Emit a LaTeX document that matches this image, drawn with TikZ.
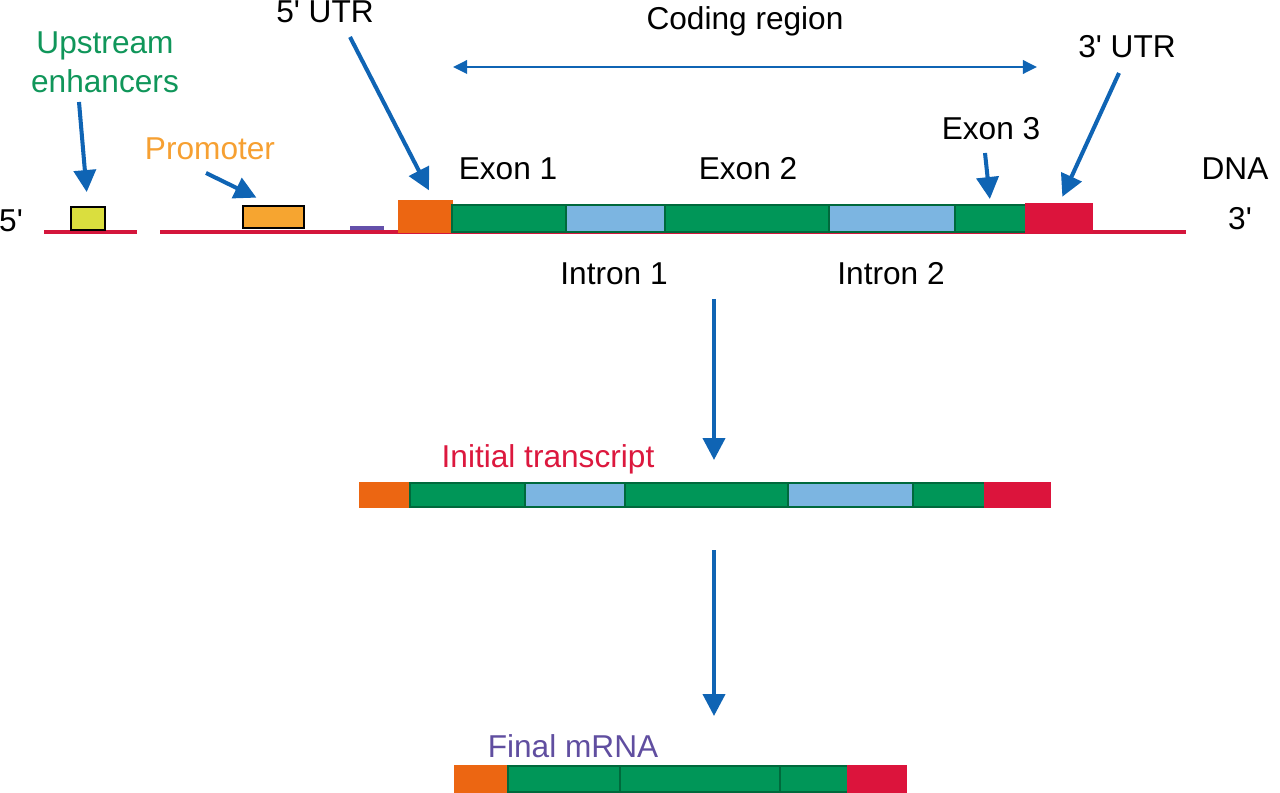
\documentclass[tikz,border=0pt]{standalone}
\usepackage{fontspec}
\setmainfont{Liberation Sans}[Ligatures=TeXOff]
\usetikzlibrary{arrows.meta}
\definecolor{dnared}{RGB}{212,22,60}
\definecolor{utrred}{RGB}{220,20,60}
\definecolor{exgreen}{RGB}{0,150,88}
\definecolor{seggreen}{RGB}{0,105,60}
\definecolor{inblue}{RGB}{124,181,225}
\definecolor{utrorange}{RGB}{236,102,18}
\definecolor{promorange}{RGB}{246,165,48}
\definecolor{enhyellow}{RGB}{218,222,62}
\definecolor{txtgreen}{RGB}{16,150,90}
\definecolor{txtorange}{RGB}{246,160,50}
\definecolor{txtred}{RGB}{220,24,62}
\definecolor{txtpurple}{RGB}{96,78,160}
\definecolor{barpurple}{RGB}{100,80,170}
\definecolor{arrblue}{RGB}{15,100,180}

\begin{document}
\begin{tikzpicture}[x=0.02cm,y=-0.02cm]
  \tikzset{every node/.style={font=\fontsize{18}{22}\selectfont},
    seg/.style={line width=0.6pt,inner sep=0pt,outer sep=0pt,anchor=south west},
    wd/.style={minimum width=(#1)*0.02cm},
    ht/.style={minimum height=(#1)*0.02cm},
    arr/.style={draw=arrblue,line width=2.3pt,-{Triangle[length=12.5pt,width=12.5pt]}},
    span/.style={draw=arrblue,line width=1.7pt,{Triangle[length=8pt,width=7.5pt]}-{Triangle[length=8pt,width=7.5pt]}}}
  \useasboundingbox (0,0) rectangle (1280,793);
  \draw[dnared,line width=2.3pt] (44,232) -- (137,232);
  \draw[dnared,line width=2.3pt] (160,232) -- (1186,232);
  \node[seg,draw=black,line width=1pt,fill=enhyellow,wd=34,ht=23] (enh) at (71,230) {};
  \node[seg,draw=black,line width=1pt,fill=promorange,wd=61,ht=22] (prom) at (243,228) {};
  \fill[barpurple] (350,226) rectangle (384,230);
  \foreach \n/\a/\b/\t/\c/\d in {utr5/399/452/201/utrorange/utrorange, ex1/452/566/205/exgreen/seggreen,
      in1/566/665/205/inblue/seggreen, ex2/665/829/205/exgreen/seggreen, in2/829/955/205/inblue/seggreen,
      ex3/955/1026/205/exgreen/seggreen, utr3/1026/1092/204/utrred/utrred}
    \node[seg,fill=\c,draw=\d,wd=\b-\a,ht=232-\t] (\n) at (\a,232) {};
  \foreach \n/\a/\b/\c/\d in {tr1/360/410/utrorange/utrorange, tr2/410/525/exgreen/seggreen,
      tr3/525/625/inblue/seggreen, tr4/625/788/exgreen/seggreen, tr5/788/913/inblue/seggreen,
      tr6/913/985/exgreen/seggreen, tr7/985/1050/utrred/utrred}
    \node[seg,fill=\c,draw=\d,wd=\b-\a,ht=24] (\n) at (\a,507) {};
  \foreach \n/\a/\b/\c/\d in {mr1/455/508/utrorange/utrorange, mr2/508/620/exgreen/seggreen,
      mr3/620/780/exgreen/seggreen, mr4/780/848/exgreen/seggreen, mr5/848/906/utrred/utrred}
    \node[seg,fill=\c,draw=\d,wd=\b-\a,ht=26] (\n) at (\a,792) {};

  \node[anchor=base] (end5) at (11,232) {5'};
  \node[anchor=base] (end3) at (1240,230) {3'};
  \node[anchor=base] (dna) at (1235,180) {DNA};
  \node[anchor=base] (lex1) at (508,180) {Exon 1};
  \node[anchor=base] (lex2) at (748,180) {Exon 2};
  \node[anchor=base] (lex3) at (991,140) {Exon 3};
  \node[anchor=base] (lin1) at (614,285) {Intron 1};
  \node[anchor=base] (lin2) at (891,285) {Intron 2};
  \node[anchor=base] (lutr5) at (325,23) {5' UTR};
  \node[anchor=base] (lcod) at (745,30) {Coding region};
  \node[anchor=base] (lutr3) at (1127,58) {3' UTR};
  \node[text=txtgreen,align=center] (lenh) at (105,62) {Upstream\\enhancers};
  \node[anchor=base,text=txtorange] (lprom) at (210,160) {Promoter};
  \node[anchor=base,text=txtred] (ltr) at (548,467) {Initial transcript};
  \node[anchor=base,text=txtpurple] (lmr) at (573,757) {Final mRNA};

  \coordinate (enhT) at (79,102);
  \coordinate (promT) at (206,173);
  \coordinate (utr5T) at (350,37);
  \coordinate (ex3T) at (985,153);
  \coordinate (utr3T) at (1119,73);
  \coordinate (codL) at (453,67);
  \coordinate (codR) at (1037,67);
  \coordinate (dnaB) at (714,299);
  \coordinate (trT) at (714,460);
  \coordinate (trB) at (714,550);
  \coordinate (mrT) at (714,716);
  \draw[arr,shorten >=0.3cm] (enhT) -- (enh.north);
  \draw[arr,shorten >=0.38cm] (promT) -- (prom.north);
  \draw[arr,shorten >=0.24cm] (utr5T) -- (utr5.60);
  \draw[arr,shorten >=0.12cm] (ex3T) -- (ex3.north);
  \draw[arr,shorten >=0.16cm] (utr3T) -- (utr3.north);
  \draw[span] (codL) -- (codR);
  \draw[arr] (dnaB) -- (trT);
  \draw[arr] (trB) -- (mrT);
\end{tikzpicture}
\end{document}
